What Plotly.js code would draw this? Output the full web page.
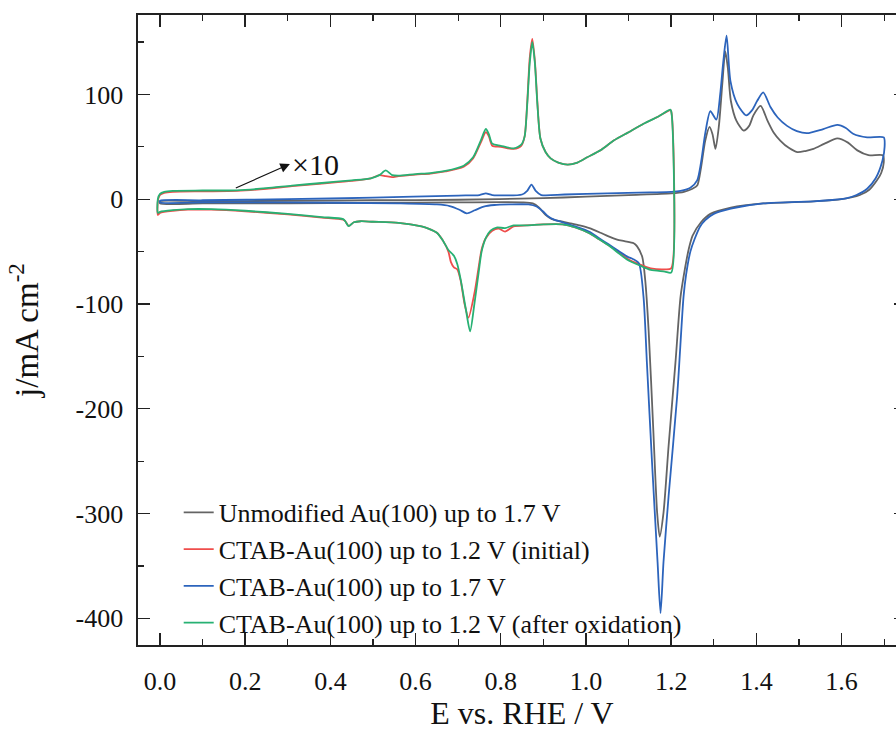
<!DOCTYPE html>
<html>
<head>
<meta charset="utf-8">
<script src="https://cdn.plot.ly/plotly-3.0.1.min.js"></script>
<style>
html,body{margin:0;padding:0;overflow:hidden;background:#fff;}
#chart{width:908px;height:731px;}
</style>
</head>
<body>
<div id="chart"></div>
<script>
// Series names
const seriesNames = [
  "Unmodified Au(100) up to 1.7 V",
  "CTAB-Au(100) up to 1.2 V (initial)",
  "CTAB-Au(100) up to 1.7 V",
  "CTAB-Au(100) up to 1.2 V (after oxidation)"
];
const seriesColors = ["#646464", "#ef4d4b", "#2c64bc", "#27b173"];

// Unmodified Au(100) up to 1.7 V (anodic then cathodic scan)
const greyE = [0.0,0.0,0.1,0.3,0.5,0.7,0.9,1.0,1.1,1.2,1.23,1.25,1.261,1.27,1.28,1.29,1.297,1.304,1.312,1.32,1.327,1.333,1.34,1.353,1.37,1.383,1.393,1.41,1.426,1.44,1.456,1.476,1.496,1.515,1.534,1.56,1.59,1.615,1.637,1.663,1.697,
  1.699,1.693,1.683,1.665,1.643,1.6,1.534,1.416,1.34,1.292,1.27,1.25,1.241,1.232,1.222,1.21,1.194,1.182,1.173,1.167,1.158,1.147,1.139,1.132,1.12,1.112,1.09,1.073,1.053,1.034,1.008,0.985,0.963,0.94,0.92,0.905,0.89,0.875,0.85,0.7,0.5,0.3,0.1,0.0];
const greyJ = [-4,-2,-2,-1.5,-1,-0.5,1,2.5,4,5.5,7,10,13,30,56,69,62,48,70,110,141,125,94,75,65.5,70,80,89,75,64,56,49,45,46,48,53,58,54,46.6,42,42,
  35,25,18,9,4,0,-2,-4,-8,-14,-22,-35,-48,-67,-93,-156,-235,-299,-322,-299,-220,-125,-77,-55,-45,-42,-40,-38.5,-35.5,-32,-27.6,-25,-23,-21,-19,-15,-8,-4,-3,-3,-3.5,-4,-4,-4];

// CTAB-Au(100) up to 1.2 V (initial)
const redE = [-0.005,-0.005,0.0,0.01,0.03,0.1,0.18,0.25,0.31,0.38,0.45,0.495,0.515,0.53,0.545,0.56,0.6,0.635,0.67,0.713,0.735,0.753,0.765,0.772,0.78,0.8,0.83,0.848,0.856,0.862,0.868,0.874,0.88,0.886,0.893,0.905,0.917,0.935,0.957,0.98,1.003,1.035,1.065,1.1,1.135,1.17,1.198,1.2,1.2,
  1.185,1.152,1.125,1.098,1.075,1.053,1.03,1.008,0.975,0.945,0.9,0.86,0.83,0.81,0.795,0.78,0.765,0.755,0.748,0.738,0.724,0.715,0.706,0.698,0.69,0.683,0.677,0.665,0.65,0.63,0.614,0.56,0.5,0.471,0.455,0.443,0.435,0.43,0.38,0.3,0.2,0.12,0.066,0.03,0.0,-0.005];
const redJ = [-15,-2,4,6,7,7.5,8,10,12.5,15,17.5,20,23,22,21,22,23.5,24.5,26.5,31,39,54,64,60,51,50,48,51,60,92,135,153,132,92,58,45,39,35,33,35,40,47,56,64,72,79,85,84,-66,
  -67,-66,-62,-57,-50,-44,-38,-32.5,-27,-24,-24,-25,-26,-31,-28,-30,-37,-48,-65,-90,-113,-100,-78,-67,-65,-60,-50,-40,-32,-28,-26,-22.5,-21.5,-21,-22,-25.5,-21,-19.5,-17.5,-14.5,-11.5,-10,-10,-11,-13,-15];

// CTAB-Au(100) up to 1.7 V
const blueE = [0.0,0.0,0.1,0.3,0.5,0.7,0.75,0.765,0.78,0.85,0.862,0.872,0.882,0.895,0.95,1.05,1.15,1.2,1.222,1.245,1.261,1.27,1.28,1.292,1.306,1.315,1.322,1.33,1.339,1.355,1.376,1.39,1.402,1.416,1.433,1.45,1.472,1.495,1.519,1.557,1.59,1.61,1.627,1.66,1.699,
  1.701,1.696,1.68,1.66,1.635,1.613,1.57,1.534,1.416,1.34,1.3,1.28,1.268,1.255,1.245,1.235,1.229,1.214,1.194,1.182,1.175,1.168,1.155,1.143,1.135,1.124,1.11,1.098,1.075,1.053,1.03,1.008,0.975,0.945,0.925,0.91,0.9,0.884,0.865,0.82,0.785,0.76,0.739,0.72,0.703,0.68,0.65,0.56,0.29,0.1,0.0];
const blueJ = [-3,-1.5,-1,0,1.5,3.5,4,5.5,4,4.5,8,14,8,4,4.5,5.5,6.5,7,8,11,18,35,63,84,76,100,130,156,113,91,80,85,94,102,88,78,70,65,63,67,71,68,62.5,59,59,
  50,37,20,10,4,1,-1,-2,-4,-9,-14,-20,-26,-38,-50,-72,-93,-188,-283,-346,-395,-346,-251,-156,-93,-61,-57,-55,-49,-43,-37,-31,-26,-22,-19.5,-16,-12,-7,-5,-5,-5.5,-7,-10.5,-13.5,-10,-6.5,-5,-4,-3,-3,-3];

// CTAB-Au(100) up to 1.2 V (after oxidation)
const greenE = [-0.005,-0.005,0.0,0.01,0.03,0.1,0.18,0.25,0.31,0.38,0.45,0.495,0.515,0.53,0.545,0.56,0.6,0.635,0.67,0.713,0.735,0.753,0.765,0.772,0.78,0.8,0.83,0.848,0.856,0.862,0.868,0.874,0.88,0.886,0.893,0.905,0.917,0.935,0.957,0.98,1.003,1.035,1.065,1.1,1.135,1.17,1.198,1.2,1.2,
  1.185,1.152,1.125,1.098,1.075,1.053,1.03,1.008,0.975,0.945,0.9,0.86,0.83,0.81,0.79,0.776,0.765,0.755,0.748,0.738,0.728,0.718,0.706,0.698,0.69,0.677,0.665,0.65,0.63,0.614,0.56,0.5,0.471,0.455,0.443,0.435,0.43,0.38,0.3,0.2,0.12,0.066,0.03,0.0,-0.005];
const greenJ = [-13,0,5,7,8,8.3,8.5,10.5,13,15.5,18,20,23,27.5,23,22.5,24,25,27,32,40,56,67,62,53,51,48.5,52,60,90,130,150,130,90,58,45,39,35,33,35,40,47,56,64,72,79,85.5,84,-70,
  -69,-67.5,-63,-58,-51,-44,-38,-32.5,-27,-24,-24,-25,-25,-27.5,-27,-30,-37,-50,-70,-100,-126,-105,-77,-62,-54,-48.5,-40,-32,-28,-26,-22.5,-21.5,-21,-22,-25.7,-21,-19,-17,-14,-11,-9.5,-9.5,-10.5,-12,-13];

// Axis ticks
const xTickVals = [0.0,0.2,0.4,0.6,0.8,1.0,1.2,1.4,1.6];
const xTickText = ["0.0","0.2","0.4","0.6","0.8","1.0","1.2","1.4","1.6"];
const yTickVals = [-400,-300,-200,-100,0,100];
const yTickText = ["-400","-300","-200","-100","0","100"];

const xs = [greyE, redE, blueE, greenE];
const ys = [greyJ, redJ, blueJ, greenJ];

const FONT = "'Liberation Serif', 'Times New Roman', serif";

const traces = seriesNames.map((n, i) => ({
  x: xs[i], y: ys[i], name: n, type: "scatter", mode: "lines",
  line: {color: seriesColors[i], width: 1.8, shape: "spline", smoothing: 0.7}
}));

const axisCommon = {
  showgrid: false, zeroline: false, showline: true, linecolor: "#222", linewidth: 1.6,
  mirror: "allticks", ticks: "inside", ticklen: 12, tickwidth: 1.4, tickcolor: "#222",
  tickfont: {family: FONT, size: 26, color: "#111"},
};

const layout = {
  width: 908, height: 731,
  margin: {l: 138, r: 2, t: 15, b: 86},
  paper_bgcolor: "#fff", plot_bgcolor: "#fff",
  font: {family: FONT, color: "#111"},
  showlegend: true,
  legend: {
    x: 0.053, y: -0.003, xanchor: "left", yanchor: "bottom",
    bgcolor: "rgba(0,0,0,0)", borderwidth: 0,
    font: {family: FONT, size: 26, color: "#111"},
    tracegroupgap: 0
  },
  xaxis: Object.assign({}, axisCommon, {
    range: [-0.0516, 1.7512],
    tickmode: "array", tickvals: xTickVals, ticktext: xTickText,
    minor: {dtick: 0.1, tick0: 0, ticks: "inside", ticklen: 6, tickwidth: 1.2, tickcolor: "#222"},
    ticklabelstandoff: 12,
    title: {text: "E vs. RHE / V", font: {family: FONT, size: 32, color: "#111"}, standoff: 20}
  }),
  yaxis: Object.assign({}, axisCommon, {
    range: [-425.4, 175.8],
    tickmode: "array", tickvals: yTickVals, ticktext: yTickText,
    minor: {dtick: 50, tick0: 0, ticks: "inside", ticklen: 6, tickwidth: 1.2, tickcolor: "#222"},
    ticklabelstandoff: 8,
    title: {text: "j/mA cm<sup>-2</sup>", font: {family: FONT, size: 33, color: "#111"}, standoff: 27}
  }),
  annotations: [
    {
      // text box sits at the arrow head; the arrow runs back to the ×10 curve
      text: "×10",
      x: 0.178, y: 10.7, xref: "x", yref: "y",
      ax: 0.305, ay: 33.6, axref: "x", ayref: "y",
      xanchor: "left", yanchor: "middle",
      showarrow: true, arrowside: "start",
      startarrowhead: 2, startarrowsize: 1.6, arrowwidth: 1.2, arrowcolor: "#111",
      font: {family: FONT, size: 30, color: "#111"}
    }
  ]
};

Plotly.newPlot("chart", traces, layout, {displayModeBar: false, staticPlot: true});
</script>
</body>
</html>
